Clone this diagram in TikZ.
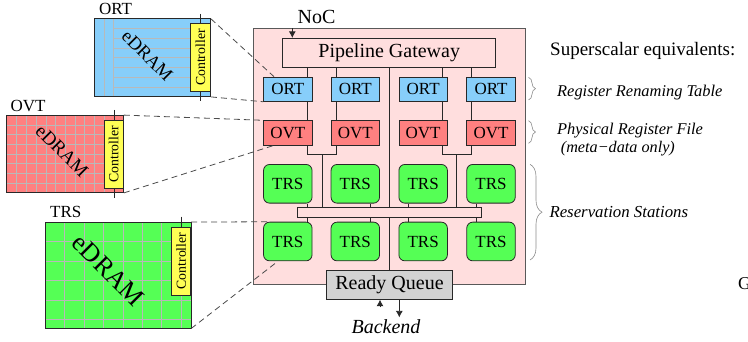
\documentclass[tikz,border=0pt]{standalone}
\usepackage{fontspec}
\setmainfont{Liberation Serif}
\usetikzlibrary{calc,arrows.meta,decorations.pathreplacing}

\definecolor{ortblue}{RGB}{135,206,250}
\definecolor{ovtred}{RGB}{255,128,128}
\definecolor{trsgreen}{RGB}{85,255,85}
\definecolor{corepink}{RGB}{255,222,222}
\definecolor{ctlyellow}{RGB}{255,255,85}
\definecolor{rqgray}{RGB}{211,211,211}
\definecolor{gridgray}{RGB}{185,185,185}
\definecolor{edgecol}{RGB}{40,40,40}

\newcommand\fsz[1]{\fontsize{#1}{#1}\selectfont}

\begin{document}
\begin{tikzpicture}[x=1pt,y=-1pt,
  cbox/.style={draw=edgecol, line width=0.8pt, inner sep=0pt, minimum width=48.5pt, font=\fsz{17}},
  ortbox/.style={cbox, fill=ortblue, minimum height=24.3pt},
  ovtbox/.style={cbox, fill=ovtred, minimum height=24.6pt},
  trsbox/.style={cbox, fill=trsgreen, rounded corners=6pt, minimum height=38.7pt},
  memedge/.style={draw=edgecol, line width=0.9pt},
  ctlbox/.style={draw=edgecol, line width=0.8pt, fill=ctlyellow, rotate=90, inner sep=0pt, minimum width=68pt, minimum height=19.3pt, font=\fsz{13.8}},
  gridline/.style={draw=gridgray, line width=0.7pt},
  wire/.style={draw=edgecol, line width=0.8pt},
  zoomline/.style={draw=black!70, line width=0.8pt, dash pattern=on 6pt off 4pt},
  curly/.style={draw=black!45, line width=0.6pt, decorate, decoration={brace, amplitude=#1}},
  lbl/.style={inner sep=0pt, anchor=base west},
  tip/.style={-{Latex[length=6.5pt,width=7pt]}}
]
\path[fill=white, use as bounding box] (0,0) rectangle (748,342);

% ---------- ORT eDRAM ----------
\node[inner sep=0pt, minimum width=116.4pt, minimum height=77.7pt, fill=ortblue] (ortmem) at (152.5,57.85) {};
\foreach \gx in {104,113.7} \draw[gridline] (\gx,19) -- (\gx,96.7);
\foreach \k in {1,...,7} \draw[gridline] (113.7,19+9.7*\k) -- (210.7,19+9.7*\k);
\draw[memedge] (ortmem.north west) rectangle (ortmem.south east);
\node[rotate=-45, inner sep=0pt, font=\fsz{18.5}] (ortedram) at (147.3,55.5) {eDRAM};
\draw[wire] (200.3,14) -- (200.3,100.7);
\node[ctlbox] (ortctl) at (200.5,57.5) {Controller};
\node[inner sep=0pt, font=\fsz{17}] (ortlbl) at (115.5,8.6) {ORT};

% ---------- OVT eDRAM ----------
\node[inner sep=0pt, minimum width=116.7pt, minimum height=77.4pt, fill=ovtred] (ovtmem) at (65.35,154) {};
\foreach \k in {1,...,11} \draw[gridline] (7+9.725*\k,115.3) -- (7+9.725*\k,192.7);
\foreach \k in {1,...,7} \draw[gridline] (7,115.3+9.675*\k) -- (123.7,115.3+9.675*\k);
\draw[memedge] (ovtmem.north west) rectangle (ovtmem.south east);
\node[rotate=-45, inner sep=0pt, font=\fsz{19}] (ovtedram) at (62,151) {eDRAM};
\draw[wire] (114,110) -- (114,197.7);
\node[ctlbox] (ovtctl) at (113.7,154.3) {Controller};
\node[inner sep=0pt, font=\fsz{17}] (ovtlbl) at (28,105.8) {OVT};

% ---------- TRS eDRAM ----------
\node[inner sep=0pt, minimum width=145.7pt, minimum height=106pt, fill=trsgreen] (trsmem) at (118.15,275.3) {};
\foreach \k in {1,...,7} \draw[gridline] (45.3+19.4*\k,222.3) -- (45.3+19.4*\k,328.3);
\foreach \k in {1,...,5} \draw[gridline] (45.3,222.3+19.4*\k) -- (191,222.3+19.4*\k);
\draw[memedge] (trsmem.north west) rectangle (trsmem.south east);
\node[rotate=-45, inner sep=0pt, font=\fsz{26}] (trsedram) at (108.3,270.3) {eDRAM};
\draw[wire] (181.3,216.7) -- (181.3,227);
\node[ctlbox] (trsctl) at (181.2,261) {Controller};
\node[inner sep=0pt, font=\fsz{17}] (trslbl) at (65.8,212.3) {TRS};

% ---------- core ----------
\node[draw=black!65, line width=1pt, fill=corepink, inner sep=0pt, minimum width=271.7pt, minimum height=256pt] (core) at (389.15,157) {};
\node[cbox, fill=corepink, minimum width=213pt, minimum height=28.7pt, font=\fsz{20}] (gw) at (389.2,52.65) {Pipeline Gateway};

\foreach \i/\cx in {1/287.8,2/355.3,3/423.15,4/491} {
  \node[ortbox] (ort\i) at (\cx,89.2) {ORT};
  \node[ovtbox] (ovt\i) at (\cx,133) {OVT};
  \node[trsbox] (trs\i) at (\cx,183.8) {TRS};
}
\foreach \i/\cx in {5/287.8,6/355.3,7/423.15,8/491}
  \node[trsbox] (trs\i) at (\cx,241.5) {TRS};

\node[draw=edgecol, line width=0.8pt, fill=corepink, inner sep=0pt, minimum width=184pt, minimum height=9.6pt] (bus) at (389.3,212.5) {};
\node[cbox, fill=rqgray, minimum width=125.6pt, minimum height=29.3pt, font=\fsz{20}] (rq) at (389.5,284.65) {Ready Queue};

% column coordinates
\coordinate (c1) at (307.7,0); \coordinate (c2) at (336.3,0);
\coordinate (c3) at (442.3,0); \coordinate (c4) at (471.3,0);
\coordinate (cm) at (389.3,0);
\coordinate (j1) at (322,154.3); \coordinate (j2) at (456.8,154.3);
\coordinate (t1) at (307.7,0); \coordinate (t2) at (370,0);
\coordinate (t3) at (408.3,0); \coordinate (t4) at (476.7,0);

\foreach \i in {1,2,3,4} {
  \draw[wire] (gw.south -| c\i) -- (ort\i.north -| c\i);
  \draw[wire] (ort\i.south -| c\i) -- (ovt\i.north -| c\i);
}
\draw[wire] (ovt1.south -| c1) |- (j1) -| (ovt2.south -| c2);
\draw[wire] (ovt3.south -| c3) |- (j2) -| (ovt4.south -| c4);
\draw[wire] (j1) -- (bus.north -| j1);
\draw[wire] (j2) -- (bus.north -| j2);
\draw[wire] (gw.south -| cm) -- (bus.north -| cm);
\draw[wire] (bus.south -| cm) -- (rq.north -| cm);
\foreach \i/\k in {1/5,2/6,3/7,4/8} {
  \draw[wire] (trs\i.south -| t\i) -- (bus.north -| t\i);
  \draw[wire] (bus.south -| t\i) -- (trs\k.north -| t\i);
}

% NoC
\node[inner sep=0pt, anchor=base, font=\fsz{20}] (noc) at (316.5,24) {NoC};
\coordinate (nocx) at (292.3,0);
\draw[wire, tip] (core.north -| nocx) -- (gw.north -| nocx);

% Backend
\node[inner sep=1.5pt, anchor=base, font=\fsz{20}\itshape] (be) at (386,333) {Backend};
\coordinate (aout) at (399.3,0); \coordinate (ain) at (380,0);
\draw[wire, tip] (rq.south -| aout) -- (be.north -| aout);
\draw[wire, tip] ($(rq.south -| ain)+(0,7.6)$) -- (rq.south -| ain);

% dashed zoom lines
\draw[zoomline] (ortmem.north east) -- ($(ort1.north west)!0.22!(ort1.north east)$);
\draw[zoomline] (ortmem.south east) -- (ort1.south west);
\draw[zoomline] (ovtmem.north east) -- (ovt1.north west);
\draw[zoomline] (ovtmem.south east) -- ($(ovt1.south west)!0.2!(ovt1.south east)$);
\draw[zoomline] (trsmem.north east) -- ($(trs5.north west)+(5,0)$);
\draw[zoomline] (trsmem.south east) -- ($(trs5.south west)!0.3!(trs5.south east)$);

% braces and equivalents
\draw[curly=7] (528.5,77.3) -- (528.5,100);
\draw[curly=7] (528.5,120.7) -- (528.5,143.3);
\draw[curly=12] (530,164.3) -- (530,260);

\node[lbl, font=\fsz{19}] (sse) at (550,56) {Superscalar equivalents:};
\node[lbl, font=\fsz{16.4}\itshape] (rrt) at (557,97) {Register Renaming Table};
\node[lbl, font=\fsz{16.4}\itshape] (prf) at (557,135) {Physical Register File};
\node[lbl, font=\fsz{16.2}\itshape] (meta) at (560.7,152.5) {(meta−data only)};
\node[lbl, font=\fsz{16.8}\itshape] (rs) at (549.3,217.3) {Reservation Stations};
\node[lbl, font=\fsz{18}] (gcut) at (738,290) {G};
\end{tikzpicture}
\end{document}
